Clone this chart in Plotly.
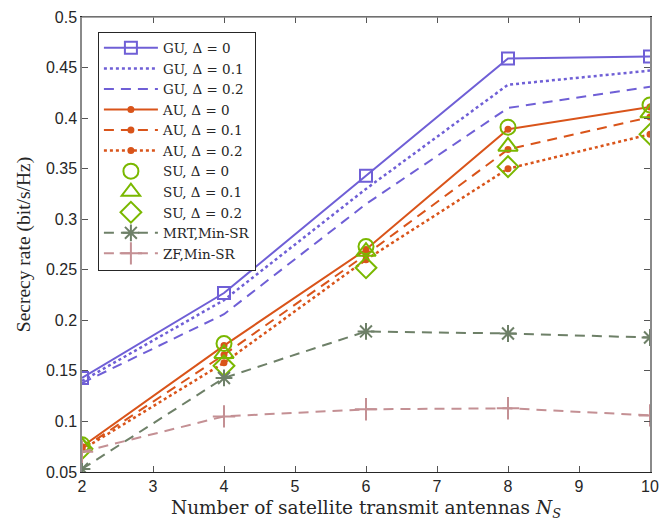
import plotly.graph_objects as go

x = [2, 4, 6, 8, 10]
gu_0 = [0.143, 0.227, 0.343, 0.459, 0.461]
gu_01 = [0.140, 0.220, 0.330, 0.433, 0.447]
gu_02 = [0.138, 0.206, 0.315, 0.410, 0.431]
au_0 = [0.075, 0.175, 0.270, 0.389, 0.411]
au_01 = [0.073, 0.166, 0.265, 0.369, 0.401]
au_02 = [0.072, 0.158, 0.260, 0.350, 0.384]
su_0 = [0.077, 0.177, 0.273, 0.391, 0.413]
su_01 = [0.075, 0.167, 0.268, 0.372, 0.405]
su_02 = [0.073, 0.155, 0.252, 0.352, 0.384]
mrt = [0.053, 0.143, 0.189, 0.187, 0.183]
zf = [0.070, 0.105, 0.112, 0.113, 0.106]

yticks = [0.05, 0.1, 0.15, 0.2, 0.25, 0.3, 0.35, 0.4, 0.45, 0.5]
ytick_labels = ["0.05", "0.1", "0.15", "0.2", "0.25", "0.3", "0.35", "0.4", "0.45", "0.5"]
xticks = [2, 3, 4, 5, 6, 7, 8, 9, 10]

PURPLE = "#6f5fd6"
ORANGE = "#d9541a"
GREEN = "#7ab800"
GRAYG = "#6e8068"
PINK = "#c49094"

fig = go.Figure()

def add(y, name, color, dash, mode, symbol=None, msize=6, width=2):
    marker = dict(color=color)
    if symbol is not None:
        marker.update(symbol=symbol, size=msize, line=dict(color=color, width=2))
    fig.add_trace(go.Scatter(
        x=x, y=y, name=name, mode=mode,
        line=dict(color=color, dash=dash, width=width),
        marker=marker,
    ))

add(gu_0, "GU, Δ = 0", PURPLE, "solid", "lines+markers", "square-open", 12)
add(gu_01, "GU, Δ = 0.1", PURPLE, "dot", "lines", width=2.5)
add(gu_02, "GU, Δ = 0.2", PURPLE, "10px,7px", "lines")
add(au_0, "AU, Δ = 0", ORANGE, "solid", "lines+markers", "circle", 5)
add(au_01, "AU, Δ = 0.1", ORANGE, "10px,7px", "lines+markers", "circle", 5)
add(au_02, "AU, Δ = 0.2", ORANGE, "dot", "lines+markers", "circle", 5, width=2.5)
add(su_0, "SU, Δ = 0", GREEN, "solid", "markers", "circle-open", 15)
add(su_01, "SU, Δ = 0.1", GREEN, "solid", "markers", "triangle-up-open", 17)
add(su_02, "SU, Δ = 0.2", GREEN, "solid", "markers", "diamond-open", 16)
add(mrt, "MRT,Min-SR", GRAYG, "10px,7px", "lines+markers", "asterisk-open", 14)
add(zf, "ZF,Min-SR", PINK, "10px,7px", "lines+markers", "cross-thin-open", 16)

tickfont = dict(family="Liberation Sans, Arial", size=16, color="#262626")

fig.update_layout(
    width=668, height=525,
    paper_bgcolor="white", plot_bgcolor="white",
    margin=dict(l=82, r=9, t=15, b=53),
    xaxis=dict(range=[2, 10], tickvals=xticks,
               showline=True, linecolor="#262626", linewidth=1.3, mirror="ticks",
               ticks="inside", ticklen=6, tickcolor="#555", tickwidth=1,
               showgrid=False, zeroline=False, tickfont=tickfont,
               title=dict(text="Number of satellite transmit antennas <i>N</i><sub><i>S</i></sub>",
                          font=dict(family="DejaVu Serif, serif", size=18.5, color="#262626"),
                          standoff=6)),
    yaxis=dict(range=[0.05, 0.5], tickvals=yticks, ticktext=ytick_labels,
               showline=True, linecolor="#8a8a8a", linewidth=1.5, mirror="ticks",
               ticks="inside", ticklen=6, tickcolor="#555", tickwidth=1,
               showgrid=False, zeroline=False, tickfont=tickfont,
               title=dict(text="Secrecy rate (bit/s/Hz)",
                          font=dict(family="Liberation Serif, serif", size=19.5, color="#262626"),
                          standoff=10)),
    legend=dict(
        x=0.028, y=0.968, xanchor="left", yanchor="top",
        bgcolor="white", bordercolor="#262626", borderwidth=1,
        font=dict(family="DejaVu Serif, serif", size=13.5, color="#262626"),
        itemwidth=54, tracegroupgap=0,
    ),
    shapes=[dict(type="line", xref="paper", yref="paper", x0=0, x1=1, y0=1, y1=1,
                 line=dict(color="#8a8a8a", width=1.5), layer="above")],
    showlegend=True,
)

fig.write_html("out.html", config={"displayModeBar": False},
               post_script="document.body.style.margin='0px';document.body.style.overflow='hidden';")
